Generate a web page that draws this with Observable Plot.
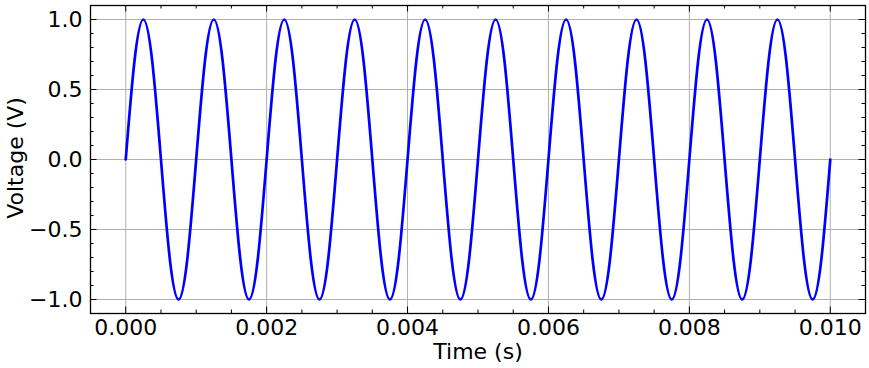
<!DOCTYPE html>
<html>
<head>
<meta charset="utf-8">
<script src="https://cdn.jsdelivr.net/npm/d3@7"></script>
<script src="https://cdn.jsdelivr.net/npm/@observablehq/plot@0.6"></script>
<style>
  html, body { margin: 0; padding: 0; background: #fff; }
  svg { display: block; }
</style>
</head>
<body>
<div id="chart"></div>
<script>
// Sample times in milliseconds (at 1/8-period spacing)
const timeMs = [
  0, 0.125, 0.25, 0.375, 0.5, 0.625, 0.75, 0.875,
  1, 1.125, 1.25, 1.375, 1.5, 1.625, 1.75, 1.875,
  2, 2.125, 2.25, 2.375, 2.5, 2.625, 2.75, 2.875,
  3, 3.125, 3.25, 3.375, 3.5, 3.625, 3.75, 3.875,
  4, 4.125, 4.25, 4.375, 4.5, 4.625, 4.75, 4.875,
  5, 5.125, 5.25, 5.375, 5.5, 5.625, 5.75, 5.875,
  6, 6.125, 6.25, 6.375, 6.5, 6.625, 6.75, 6.875,
  7, 7.125, 7.25, 7.375, 7.5, 7.625, 7.75, 7.875,
  8, 8.125, 8.25, 8.375, 8.5, 8.625, 8.75, 8.875,
  9, 9.125, 9.25, 9.375, 9.5, 9.625, 9.75, 9.875,
  10
];
const voltage = [
  0, 0.707, 1, 0.707, 0, -0.707, -1, -0.707,
  0, 0.707, 1, 0.707, 0, -0.707, -1, -0.707,
  0, 0.707, 1, 0.707, 0, -0.707, -1, -0.707,
  0, 0.707, 1, 0.707, 0, -0.707, -1, -0.707,
  0, 0.707, 1, 0.707, 0, -0.707, -1, -0.707,
  0, 0.707, 1, 0.707, 0, -0.707, -1, -0.707,
  0, 0.707, 1, 0.707, 0, -0.707, -1, -0.707,
  0, 0.707, 1, 0.707, 0, -0.707, -1, -0.707,
  0, 0.707, 1, 0.707, 0, -0.707, -1, -0.707,
  0, 0.707, 1, 0.707, 0, -0.707, -1, -0.707,
  0
];
const xMajorTicks = [0, 0.002, 0.004, 0.006, 0.008, 0.010];
const xMinorTicks = [0.0005, 0.001, 0.0015, 0.0025, 0.003, 0.0035, 0.0045, 0.005, 0.0055,
  0.0065, 0.007, 0.0075, 0.0085, 0.009, 0.0095];
const yMajorTicks = [-1.0, -0.5, 0.0, 0.5, 1.0];
const yMinorTicks = [-0.9, -0.8, -0.7, -0.6, -0.4, -0.3, -0.2, -0.1,
  0.1, 0.2, 0.3, 0.4, 0.6, 0.7, 0.8, 0.9];
const xLabel = "Time (s)";
const yLabel = "Voltage (V)";

const data = timeMs.map((t, i) => ({t: t / 1000, v: voltage[i]}));

const W = 869, H = 368;
const mL = 90, mR = 4, mT = 5, mB = 55;
const xDom = [-0.0005, 0.0105], yDom = [-1.1, 1.1];
const xPerPx = (xDom[1] - xDom[0]) / (W - mL - mR);
const yPerPx = (yDom[1] - yDom[0]) / (H - mT - mB);
const MAJ = 6.5, MIN = 3.5;
const FS = 22;
const font = "DejaVu Sans, sans-serif";

function xTicks(ticks, len) {
  return [
    Plot.ruleX(ticks, {x: d => d, y1: yDom[0], y2: yDom[0] + len * yPerPx, stroke: "black", strokeWidth: 1}),
    Plot.ruleX(ticks, {x: d => d, y1: yDom[1], y2: yDom[1] - len * yPerPx, stroke: "black", strokeWidth: 1})
  ];
}
function yTicks(ticks, len) {
  return [
    Plot.ruleY(ticks, {y: d => d, x1: xDom[0], x2: xDom[0] + len * xPerPx, stroke: "black", strokeWidth: 1}),
    Plot.ruleY(ticks, {y: d => d, x1: xDom[1], x2: xDom[1] - len * xPerPx, stroke: "black", strokeWidth: 1})
  ];
}

const chart = Plot.plot({
  width: W,
  height: H,
  marginLeft: mL,
  marginRight: mR,
  marginTop: mT,
  marginBottom: mB,
  style: {fontFamily: font, fontSize: FS + "px", background: "white", color: "black"},
  x: {domain: xDom, axis: null},
  y: {domain: yDom, axis: null},
  marks: [
    Plot.gridX(xMajorTicks, {stroke: "#b0b0b0", strokeOpacity: 1, strokeWidth: 1}),
    Plot.gridY(yMajorTicks, {stroke: "#b0b0b0", strokeOpacity: 1, strokeWidth: 1}),
    Plot.line(data, {x: "t", y: "v", stroke: "#0000ff", strokeWidth: 2.7, curve: "natural"}),
    ...xTicks(xMajorTicks, MAJ),
    ...xTicks(xMinorTicks, MIN),
    ...yTicks(yMajorTicks, MAJ),
    ...yTicks(yMinorTicks, MIN),
    Plot.frame({stroke: "black", strokeWidth: 1.3}),
    Plot.axisX(xMajorTicks, {anchor: "bottom", tickSize: 0, tickPadding: 5.5, tickFormat: d3.format(".3f"),
      label: null, fontSize: FS, fill: "black"}),
    Plot.axisY(yMajorTicks, {anchor: "left", tickSize: 0, tickPadding: 8, tickFormat: d3.format(".1f"),
      label: null, fontSize: FS, fill: "black"}),
    Plot.text([xLabel], {frameAnchor: "bottom", lineAnchor: "middle", textAnchor: "middle", dy: 38,
      text: d => d, fontSize: FS, fill: "black"}),
    Plot.text([yLabel], {frameAnchor: "left", lineAnchor: "middle", textAnchor: "middle", dx: -75, dy: -1.5,
      rotate: -90, text: d => d, fontSize: FS, fill: "black"})
  ]
});
document.getElementById("chart").appendChild(chart);
</script>
</body>
</html>
